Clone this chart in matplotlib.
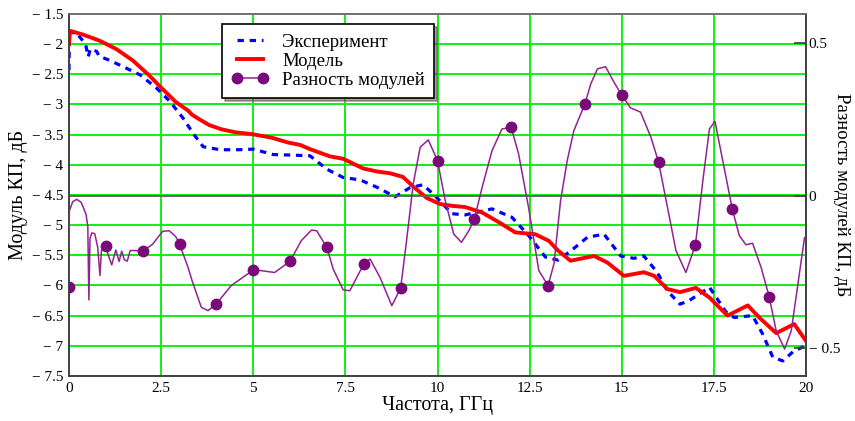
import numpy as np
import matplotlib
matplotlib.use("Agg")
import matplotlib.pyplot as plt
from matplotlib.lines import Line2D

plt.rcParams['font.family'] = ['Liberation Serif', 'DejaVu Serif']

# Эксперимент (left axis, dB)
exp_x = [0.0, 0.01, 0.21, 0.45, 0.52, 0.58, 0.75, 0.82, 1.11, 1.56, 1.93, 2.38, 2.74,
         3.10, 3.37, 3.64, 4.10, 4.60, 5.00, 5.54, 6.09, 6.54, 6.99, 7.44, 7.90, 8.35,
         8.85, 9.25, 9.61, 9.96, 10.39, 10.75, 11.48, 12.02, 12.47, 12.93, 13.27, 13.61,
         14.07, 14.52, 14.97, 15.33, 15.60, 15.96, 16.24, 16.58, 16.83, 17.38, 17.83,
         18.05, 18.55, 18.82, 19.10, 19.37, 19.68, 20.0]
exp_y = [-2.43, -1.80, -1.82, -2.00, -2.21, -2.08, -2.12, -2.20, -2.27, -2.40, -2.51, -2.73, -2.95,
         -3.23, -3.48, -3.70, -3.75, -3.75, -3.74, -3.83, -3.84, -3.85, -4.07, -4.21, -4.25, -4.37,
         -4.53, -4.38, -4.33, -4.53, -4.81, -4.83, -4.73, -4.87, -5.17, -5.53, -5.58, -5.43,
         -5.20, -5.15, -5.51, -5.55, -5.51, -5.78, -6.09, -6.31, -6.25, -6.03, -6.44,
         -6.53, -6.50, -6.80, -7.19, -7.25, -7.08, -7.00]

# Модель (left axis, dB)
mod_x = [0.0, 0.03, 0.37, 0.82, 1.28, 1.73, 2.18, 2.45, 2.90, 3.23, 3.34, 3.55, 3.80, 4.13,
         4.50, 4.95, 5.50, 5.94, 6.27, 6.54, 7.08, 7.44, 7.98, 8.35, 8.71, 9.06, 9.34, 9.71,
         10.07, 10.39, 10.75, 11.21, 11.66, 12.11, 12.65, 13.02, 13.27, 13.61, 14.25, 14.61,
         15.06, 15.60, 15.88, 16.24, 16.58, 17.01, 17.38, 17.87, 18.42, 18.73, 19.19, 19.68, 20.0]
mod_y = [-2.00, -1.78, -1.84, -1.94, -2.08, -2.27, -2.52, -2.69, -2.96, -3.10, -3.17, -3.25, -3.34, -3.41,
         -3.46, -3.49, -3.55, -3.63, -3.67, -3.74, -3.86, -3.90, -4.06, -4.11, -4.14, -4.20, -4.36, -4.55,
         -4.65, -4.68, -4.70, -4.79, -4.95, -5.12, -5.15, -5.26, -5.42, -5.59, -5.51, -5.62,
         -5.84, -5.78, -5.84, -6.06, -6.11, -6.04, -6.20, -6.50, -6.33, -6.53, -6.79, -6.64, -6.92]

# Разность модулей (right axis, dB)
diff_x = [0.00, 0.01, 0.10, 0.21, 0.33, 0.46, 0.51, 0.54, 0.57, 0.62, 0.70, 0.78, 0.84, 0.88,
          0.94, 1.00, 1.08, 1.16, 1.27, 1.36, 1.43, 1.50, 1.58, 1.66, 1.80, 2.00, 2.27, 2.54,
          2.72, 2.90, 3.00, 3.23, 3.34, 3.59, 3.77, 4.00, 4.40, 5.00, 5.22, 5.58, 6.00, 6.30,
          6.58, 6.72, 7.00, 7.17, 7.44, 7.62, 8.00, 8.17, 8.44, 8.76, 9.00, 9.16, 9.34, 9.53,
          9.75, 10.00, 10.21, 10.44, 10.65, 10.85, 11.00, 11.21, 11.48, 11.75, 12.00, 12.20,
          12.47, 12.75, 13.00, 13.16, 13.34, 13.52, 13.70, 14.00, 14.16, 14.34, 14.56, 14.79,
          15.00, 15.24, 15.51, 15.79, 16.00, 16.24, 16.47, 16.74, 17.00, 17.20, 17.38, 17.53,
          17.74, 18.00, 18.19, 18.37, 18.55, 18.78, 19.00, 19.19, 19.42, 19.60, 19.78, 19.96, 20.0]
diff_y = [-0.300, -0.050, -0.020, -0.012, -0.022, -0.060, -0.100, -0.342, -0.140, -0.122, -0.125,
          -0.170, -0.262, -0.180, -0.165, -0.166, -0.200, -0.227, -0.178, -0.216, -0.182, -0.210,
          -0.215, -0.180, -0.180, -0.183, -0.159, -0.117, -0.115, -0.135, -0.159, -0.235, -0.279,
          -0.366, -0.377, -0.355, -0.295, -0.244, -0.246, -0.252, -0.215, -0.148, -0.113, -0.115,
          -0.170, -0.241, -0.309, -0.312, -0.224, -0.208, -0.268, -0.361, -0.303, -0.148, 0.038,
          0.159, 0.183, 0.115, -0.016, -0.126, -0.153, -0.115, -0.077, 0.027, 0.148, 0.219, 0.224,
          0.137, -0.038, -0.246, -0.295, -0.224, -0.016, 0.115, 0.213, 0.301, 0.367, 0.416, 0.423,
          0.372, 0.330, 0.288, 0.274, 0.192, 0.110, -0.038, -0.180, -0.252, -0.161, 0.049, 0.219,
          0.244, 0.115, -0.044, -0.131, -0.161, -0.156, -0.235, -0.331, -0.443, -0.503, -0.443,
          -0.290, -0.137, -0.145]

# markers of the difference at whole GHz
mark_x = list(range(20))
mark_y = [-0.299, -0.166, -0.183, -0.159, -0.355, -0.244, -0.215, -0.170, -0.224, -0.303,
          0.115, -0.077, 0.224, -0.295, 0.301, 0.330, 0.110, -0.161, -0.044, -0.331]

x_ticks = [0, 2.5, 5, 7.5, 10, 12.5, 15, 17.5, 20]
y_ticks = [-7.5, -7, -6.5, -6, -5.5, -5, -4.5, -4, -3.5, -3, -2.5, -2, -1.5]
y2_ticks = [-0.5, 0, 0.5]

purple = '#912491'
purple_dark = '#7A0A7A'
frame = '#404040'

fig = plt.figure(figsize=(8.55, 4.21), dpi=100)
ax = fig.add_axes([0.0807, 0.1069, 0.862, 0.8599])
ax2 = ax.twinx()

ax.plot(exp_x, exp_y, color='#0000FF', lw=2.3, linestyle=(0, (2, 1.8)))
ax.plot(mod_x, mod_y, color='#FF0000', lw=2.8)

ax2.axhline(0, color='#606060', lw=1.3, zorder=1)
ax2.plot(diff_x, diff_y, color=purple, lw=1.1, zorder=3)
ax2.plot(mark_x, mark_y, linestyle='none', marker='o', ms=7.5,
         color=purple_dark, zorder=4)

ax.set_xlim(0, 20)
ax.set_ylim(-7.5, -1.5)
ax2.set_ylim(-0.5915, 0.596)

ax.set_xticks(x_ticks)
ax.set_xticklabels(['{:g}'.format(v) for v in x_ticks])
ax.set_yticks(y_ticks)
ax.set_yticklabels(['\u2212 {:g}'.format(-v) for v in y_ticks])
ax2.set_yticks(y2_ticks)
ax2.set_yticklabels(['\u2212 0.5', '0', '0.5'])

ax.grid(True, color='#00EE00', lw=1.3)
ax.set_axisbelow(True)
ax.tick_params(length=0, labelsize=11, pad=4)
ax2.tick_params(direction='in', length=9, width=1.2, color=frame, labelsize=11, pad=2)

for a in (ax, ax2):
    for s in a.spines.values():
        s.set_color(frame)
        s.set_linewidth(1.2)
    a.spines['top'].set_color('#707070')

ax.set_xlabel('Частота, ГГц', fontsize=14.5, labelpad=1)
ax.set_ylabel('Модуль КП, дБ', fontsize=14.5, labelpad=3)
ax2.set_ylabel('Разность модулей КП, дБ', fontsize=13.5, rotation=270, labelpad=7)

handles = [
    Line2D([], [], color='#0000FF', lw=2.3, linestyle=(0, (2, 1.8))),
    Line2D([], [], color='#FF0000', lw=2.8),
    Line2D([], [], color=purple, lw=1.1, marker='o', ms=7.5,
           markerfacecolor=purple_dark, markeredgecolor=purple_dark),
]
leg = ax2.legend(handles, ['Эксперимент', 'Модель', 'Разность модулей'],
                 loc='upper left', bbox_to_anchor=(0.2076, 0.972), borderaxespad=0,
                 fontsize=13.5, numpoints=2, handlelength=2.0, handletextpad=0.7,
                 labelspacing=0.1, borderpad=0.5, fancybox=False, shadow=True,
                 framealpha=1)
leg.get_frame().set_edgecolor('black')
leg.get_frame().set_linewidth(1.2)
leg.set_zorder(10)

fig.savefig('out.png', dpi=100)
